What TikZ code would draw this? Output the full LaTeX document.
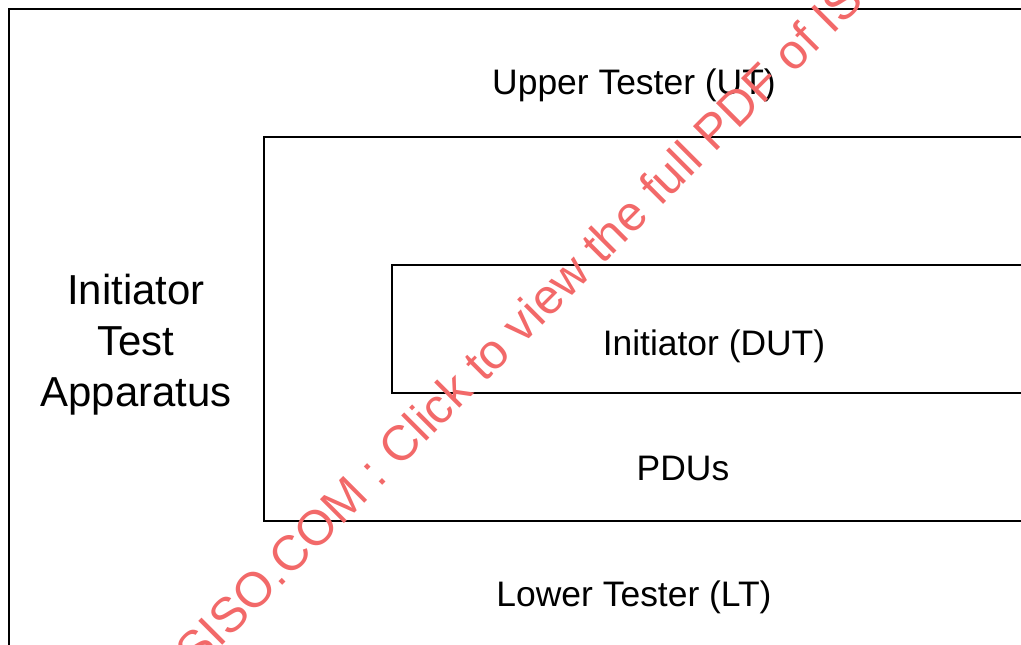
\documentclass[tikz,border=0pt]{standalone}
\usepackage{fontspec}
\setmainfont{Liberation Sans}
\usetikzlibrary{positioning}
\definecolor{wmred}{RGB}{242,105,105}
\tikzset{boxline/.style={line width=1.4pt},
         label/.style={font=\fontsize{25.2}{30}\selectfont, inner sep=0pt}}

\begin{document}
\begin{tikzpicture}[x=0.025cm, y=-0.025cm]
    % fix the page
    \useasboundingbox (0,0) rectangle (1021,645);
    \clip (0,0) rectangle (1021,645);

    % draw the boxes (open to the right and bottom)
    \draw[boxline] (9,660) -- (9,9) -- (1040,9);
    \draw[boxline] (1040,137) -- (264,137) -- (264,521) -- (1040,521);
    \draw[boxline] (1040,265) -- (392,265) -- (392,393) -- (1040,393);

    % label the boxes
    \node[label] (ut) at (634,85) {Upper Tester (UT)};
    \node[label] (dut) at (714,346) {Initiator (DUT)};
    \node[label] (pdu) at (683,468) {PDUs};
    \node[label] (lt) at (634,597) {Lower Tester (LT)};
    \node[inner sep=0pt, align=center, font=\fontsize{29.8}{36.2}\selectfont] (ita) at (136,345) {Initiator\\Test\\Apparatus};

    % watermark
    \node[anchor=base west, rotate=45, inner sep=0pt, text=wmred, font=\fontsize{35}{40}\selectfont] (wm) at (196,672) {SISO.COM : Click to view the full PDF\ of ISO};
\end{tikzpicture}
\end{document}
